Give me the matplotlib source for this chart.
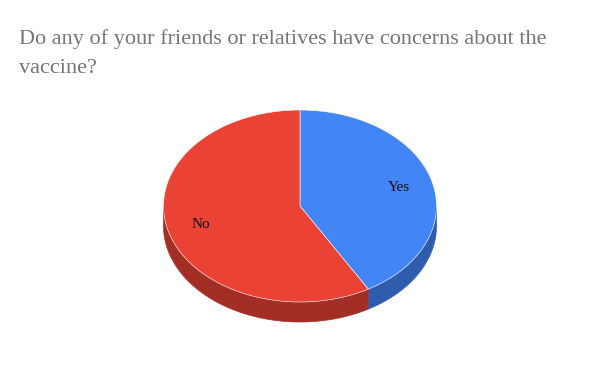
import matplotlib.pyplot as plt
import numpy as np
from matplotlib.patches import Polygon

# survey answers
labels = ["Yes", "No"]
counts = [5, 7]

TOP_COLORS = ["#4285F4", "#EA4335"]
SIDE_COLORS = ["#2F5DAE", "#A32E25"]

TITLE_LINES = ["Do any of your friends or relatives have concerns about the",
               "vaccine?"]

# pie geometry, in pixels
CX, CY = 300.0, 206.0
RX, RY = 136.5, 96.0
DEPTH = 20.0


def ellipse_pts(t):
    return np.column_stack([CX + RX * np.cos(t), CY - RY * np.sin(t)])


def main():
    fig = plt.figure(figsize=(6.0, 3.71), dpi=100)
    ax = fig.add_axes([0, 0, 1, 1])
    ax.set_xlim(0, 600)
    ax.set_ylim(371, 0)
    ax.axis("off")

    vals = np.asarray(counts, dtype=float)
    fracs = vals / vals.sum()
    # start at 12 o'clock, go clockwise
    bounds = np.pi / 2 - 2 * np.pi * np.concatenate([[0], np.cumsum(fracs)])

    # side walls (only the front half, sin(t) < 0, is visible)
    for i in range(len(vals)):
        a0, a1 = bounds[i], bounds[i + 1]
        t = np.linspace(a0, a1, 400)
        vis = np.sin(t) <= 0
        if not vis.any():
            continue
        tv = t[vis]
        top = ellipse_pts(tv)
        bot = top + np.array([0, DEPTH])
        poly = np.vstack([top, bot[::-1]])
        ax.add_patch(Polygon(poly, closed=True, facecolor=SIDE_COLORS[i],
                             edgecolor=SIDE_COLORS[i], linewidth=0.5, zorder=1))

    # top faces
    for i in range(len(vals)):
        t = np.linspace(bounds[i], bounds[i + 1], 400)
        pts = np.vstack([[CX, CY], ellipse_pts(t)])
        ax.add_patch(Polygon(pts, closed=True, facecolor=TOP_COLORS[i],
                             edgecolor="white", linewidth=0.4, zorder=2))
        mid = 0.5 * (bounds[i] + bounds[i + 1])
        lx = CX + 0.75 * RX * np.cos(mid)
        ly = CY - 0.75 * RY * np.sin(mid)
        ax.text(lx, ly, labels[i], ha="center", va="center", fontsize=11,
                family="Liberation Serif", color="#111111", zorder=3)

    for k, line in enumerate(TITLE_LINES):
        ax.text(19, 44 + 29 * k, line, ha="left", va="baseline", fontsize=16,
                family="Liberation Serif", color="#757575")

    fig.savefig("out.png", dpi=100)


if __name__ == "__main__":
    main()
